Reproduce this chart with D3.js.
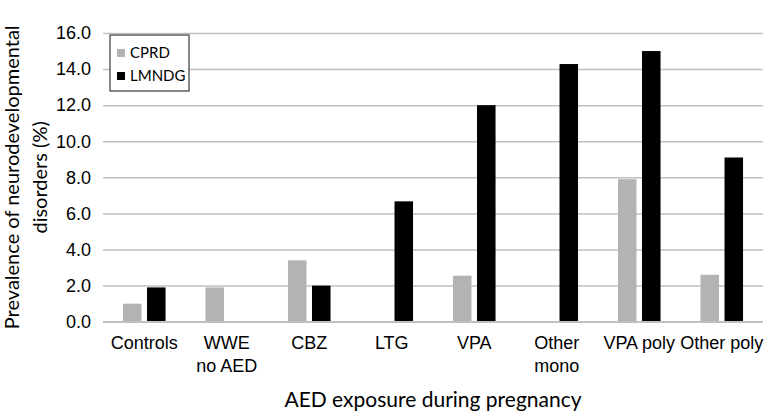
<!DOCTYPE html>
<html>
<head>
<meta charset="utf-8">
<script src="https://cdnjs.cloudflare.com/ajax/libs/d3/7.8.5/d3.min.js"></script>
<style>
  body { margin: 0; background: #fff; }
  svg { display: block; font-family: Lato, "Open Sans", sans-serif; }
</style>
</head>
<body>
<div id="chart"></div>
<script>
var categories = [['Controls'], ['WWE', 'no AED'], ['CBZ'], ['LTG'], ['VPA'], ['Other', 'mono'], ['VPA poly'], ['Other poly']]
var seriesNames = ['CPRD', 'LMNDG']
var cprd = [1.0, 1.9, 3.4, null, 2.55, null, 7.9, 2.6]
var lmndg = [1.9, null, 2.0, 6.67, 12.0, 14.28, 15.0, 9.1]
var yTicks = [0, 2, 4, 6, 8, 10, 12, 14, 16]
var colors = ['#b3b3b3', '#000000']

var w = 779
var h = 412
var margin = {top: 33, right: 16, bottom: 90, left: 103}

var svg = d3.select('#chart').append('svg')
    .attr('width', w)
    .attr('height', h)

var x0 = d3.scaleBand()
    .domain(d3.range(categories.length))
    .range([margin.left, w - margin.right])

var x1 = d3.scaleBand()
    .domain(seriesNames)
    .range([0, x0.bandwidth()])
    .paddingInner(0.23)
    .paddingOuter(0.83)

var y = d3.scaleLinear()
    .domain([0, 16])
    .range([h - margin.bottom - 0.3, margin.top])

// gridlines + tick labels
var yAxis = d3.axisLeft(y)
    .tickValues(yTicks)
    .tickFormat(d3.format('.1f'))
    .tickSize(-(w - margin.left - margin.right))
    .tickPadding(12)

svg.append('g')
    .attr('transform', 'translate(' + margin.left + ',0)')
    .call(yAxis)
    .call(function(g){
      g.select('.domain').remove()
      g.selectAll('.tick line').attr('stroke', '#c0c0c0').attr('stroke-width', 1.5)
      g.selectAll('.tick text').attr('fill', '#000').style('font-size', '18px')
    })

var rows = categories.map(function(c, i){
  return [{s: 'CPRD', v: cprd[i]}, {s: 'LMNDG', v: lmndg[i]}]
})

var group = svg.selectAll('g.cat')
    .data(rows)
    .enter().append('g')
    .attr('class', 'cat')
    .attr('transform', function(d, i){ return 'translate(' + x0(i) + ',0)' })

group.selectAll('rect')
    .data(function(d){ return d.filter(function(e){ return e.v != null }) })
    .enter().append('rect')
    .attr('x', function(d){ return x1(d.s) })
    .attr('width', x1.bandwidth())
    .attr('y', function(d){ return y(d.v) })
    .attr('height', function(d){ return y(0) - y(d.v) })
    .attr('fill', function(d){ return colors[seriesNames.indexOf(d.s)] })

// baseline
svg.append('line')
    .attr('x1', margin.left)
    .attr('x2', w - margin.right)
    .attr('y1', y(0))
    .attr('y2', y(0))
    .attr('stroke', '#c0c0c0')
    .attr('stroke-width', 1.5)

// category labels
var xAxis = d3.axisBottom(x0).tickSize(0).tickFormat('')
var xg = svg.append('g')
    .attr('transform', 'translate(0,' + y(0) + ')')
    .call(xAxis)
xg.select('.domain').remove()
xg.selectAll('.tick').append('text')
    .attr('fill', '#000')
    .attr('text-anchor', 'middle')
    .style('font-size', '18px')
    .selectAll('tspan')
    .data(function(i){ return categories[i] })
    .enter().append('tspan')
    .attr('x', 0)
    .attr('y', function(d, j){ return 27 + j * 23 })
    .text(function(d){ return d })

// axis titles
svg.append('text')
    .attr('x', (margin.left + w - margin.right) / 2)
    .attr('y', 407)
    .attr('text-anchor', 'middle')
    .style('font-size', '21px')
    .text('AED exposure during pregnancy')

var yTitle = svg.append('text')
    .attr('transform', 'translate(0,' + ((margin.top + y(0)) / 2) + ') rotate(-90)')
    .attr('text-anchor', 'middle')
    .style('font-size', '20px')
yTitle.append('tspan').attr('x', 0).attr('y', 19).text('Prevalence of neurodevelopmental')
yTitle.append('tspan').attr('x', 0).attr('y', 47).text('disorders (%)')

// legend
var legend = svg.append('g').attr('transform', 'translate(110,35)')
legend.append('rect')
    .attr('width', 79)
    .attr('height', 56)
    .attr('fill', '#fff')
    .attr('stroke', '#3a3a3a')
    .attr('stroke-width', 1.2)
var item = legend.selectAll('g.item')
    .data(seriesNames)
    .enter().append('g')
    .attr('class', 'item')
    .attr('transform', function(d, i){ return 'translate(7,' + (18 + i * 23) + ')' })
item.append('rect')
    .attr('y', -4)
    .attr('width', 8)
    .attr('height', 8)
    .attr('fill', function(d, i){ return colors[i] })
item.append('text')
    .attr('x', 13)
    .attr('dy', '0.36em')
    .style('font-size', '15px')
    .text(function(d){ return d })
</script>
</body>
</html>
